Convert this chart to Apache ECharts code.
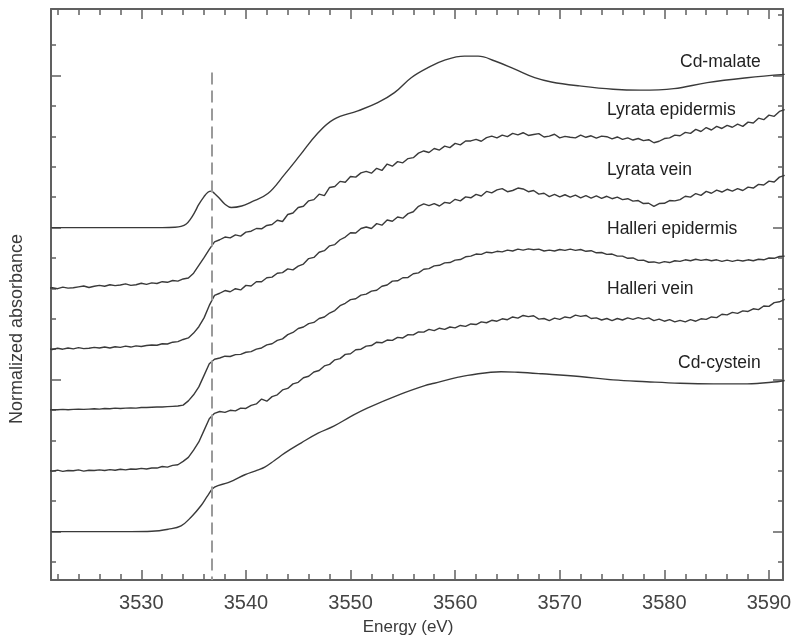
<!DOCTYPE html>
<html>
<head>
<meta charset="utf-8">
<script src="https://cdn.jsdelivr.net/npm/echarts@6.0.0/dist/echarts.min.js"></script>
<style>
  html, body { margin: 0; padding: 0; background: #fff; }
  #chart { width: 793px; height: 636px; }
</style>
</head>
<body>
<div id="chart"></div>
<script>
// sampling grid for the noisy plant spectra (eV)
const energy = [3521,
  3521.5,3522,3522.5,3523,3523.5,3524,3524.5,3525,3525.5,3526,
  3526.5,3527,3527.5,3528,3528.5,3529,3529.5,3530,3530.5,3531,
  3531.5,3532,3532.5,3533,3533.5,3534,3534.5,3535,3535.5,3536,
  3536.5,3537,3537.5,3538,3538.5,3539,3539.5,3540,3540.5,3541,
  3541.5,3542,3542.5,3543,3543.5,3544,3544.5,3545,3545.5,3546,
  3546.5,3547,3547.5,3548,3548.5,3549,3549.5,3550,3550.5,3551,
  3551.5,3552,3552.5,3553,3553.5,3554,3554.5,3555,3555.5,3556,
  3556.5,3557,3557.5,3558,3558.5,3559,3559.5,3560,3560.5,3561,
  3561.5,3562,3562.5,3563,3563.5,3564,3564.5,3565,3565.5,3566,
  3566.5,3567,3567.5,3568,3568.5,3569,3569.5,3570,3570.5,3571,
  3571.5,3572,3572.5,3573,3573.5,3574,3574.5,3575,3575.5,3576,
  3576.5,3577,3577.5,3578,3578.5,3579,3579.5,3580,3580.5,3581,
  3581.5,3582,3582.5,3583,3583.5,3584,3584.5,3585,3585.5,3586,
  3586.5,3587,3587.5,3588,3588.5,3589,3589.5,3590,3590.5,3591,
  3591.5];

const lyrataEpidermis = [0.00,
  0.02,-0.01,0.04,0.01,0.02,0.05,0.08,0.03,0.07,0.10,
  0.07,0.12,0.09,0.11,0.15,0.10,0.12,0.17,0.13,0.18,
  0.16,0.22,0.20,0.26,0.24,0.31,0.34,0.50,0.76,1.01,
  1.28,1.53,1.60,1.69,1.66,1.76,1.72,1.85,1.88,1.97,
  1.96,2.07,2.10,2.24,2.20,2.43,2.48,2.66,2.70,2.88,
  2.92,3.10,3.05,3.32,3.35,3.52,3.49,3.68,3.66,3.80,
  3.85,3.79,3.95,3.88,4.09,4.02,4.17,4.13,4.27,4.30,
  4.45,4.52,4.47,4.60,4.55,4.68,4.63,4.77,4.72,4.85,
  4.85,4.90,4.84,4.96,5.01,4.95,5.04,4.99,5.10,5.05,
  5.12,5.03,5.06,5.09,4.98,5.01,5.07,4.95,5.00,4.97,
  4.95,5.04,4.97,5.02,4.94,5.01,4.99,4.92,4.98,4.90,
  4.95,4.88,4.93,4.86,4.89,4.79,4.84,4.93,4.95,5.04,
  5.02,5.13,5.10,5.23,5.16,5.29,5.21,5.33,5.26,5.36,
  5.30,5.40,5.33,5.47,5.44,5.60,5.55,5.70,5.66,5.82,
  5.88];

const lyrataVein = [0.02,
  -0.01,0.03,0.00,0.04,0.01,0.05,0.02,0.03,0.06,0.04,
  0.07,0.04,0.08,0.06,0.10,0.07,0.11,0.09,0.12,0.14,
  0.13,0.18,0.17,0.23,0.25,0.32,0.37,0.53,0.74,1.03,
  1.44,1.77,1.84,1.93,1.89,1.99,1.95,2.10,2.08,2.22,
  2.22,2.35,2.37,2.50,2.52,2.64,2.61,2.73,2.80,2.98,
  3.02,3.19,3.24,3.40,3.44,3.60,3.69,3.83,3.82,3.97,
  4.02,3.97,4.13,4.08,4.25,4.21,4.35,4.31,4.46,4.52,
  4.70,4.78,4.72,4.79,4.71,4.83,4.80,4.93,4.88,5.01,
  4.98,5.09,5.04,5.19,5.14,5.24,5.28,5.18,5.22,5.30,
  5.27,5.18,5.22,5.10,5.13,5.02,5.09,5.01,5.08,5.00,
  5.07,4.98,5.05,4.97,5.04,4.96,5.03,4.95,5.00,4.92,
  4.95,4.87,4.89,4.79,4.80,4.70,4.79,4.80,4.89,4.88,
  4.92,5.03,5.00,5.12,5.06,5.19,5.13,5.23,5.17,5.26,
  5.20,5.28,5.22,5.33,5.30,5.42,5.40,5.53,5.50,5.66,
  5.72];

const halleriEpidermis = [0.00,
  0.01,0.01,0.02,0.01,0.02,0.03,0.02,0.03,0.04,0.03,
  0.05,0.04,0.06,0.05,0.06,0.07,0.06,0.08,0.08,0.09,
  0.10,0.10,0.11,0.12,0.13,0.16,0.30,0.50,0.76,1.14,
  1.52,1.67,1.71,1.77,1.76,1.82,1.83,1.90,1.92,2.00,
  2.04,2.14,2.18,2.29,2.34,2.48,2.55,2.68,2.73,2.84,
  2.88,3.01,3.06,3.19,3.27,3.43,3.51,3.63,3.66,3.78,
  3.81,3.91,3.94,4.07,4.11,4.24,4.25,4.35,4.36,4.48,
  4.51,4.63,4.65,4.74,4.76,4.84,4.85,4.93,4.95,5.04,
  5.06,5.13,5.12,5.19,5.17,5.22,5.20,5.26,5.23,5.29,
  5.26,5.30,5.27,5.29,5.23,5.26,5.23,5.28,5.25,5.29,
  5.25,5.28,5.22,5.24,5.17,5.18,5.12,5.13,5.06,5.06,
  4.99,5.00,4.92,4.93,4.86,4.87,4.83,4.88,4.85,4.91,
  4.89,4.94,4.91,4.96,4.92,4.95,4.91,4.94,4.89,4.93,
  4.89,4.93,4.90,4.94,4.91,4.96,4.94,5.00,4.99,5.05,
  5.06];

const halleriVein = [0.01,
  -0.01,0.02,-0.02,0.01,0.00,0.03,-0.01,0.02,0.01,0.03,
  0.01,0.04,0.02,0.05,0.03,0.06,0.05,0.08,0.06,0.09,
  0.09,0.14,0.12,0.18,0.20,0.31,0.44,0.68,0.95,1.33,
  1.71,1.89,1.95,1.92,1.99,1.97,2.06,2.05,2.15,2.20,
  2.36,2.29,2.44,2.50,2.66,2.71,2.86,2.91,3.06,3.11,
  3.25,3.30,3.45,3.50,3.65,3.69,3.83,3.85,3.98,4.00,
  4.10,4.12,4.23,4.21,4.30,4.29,4.39,4.37,4.48,4.47,
  4.57,4.56,4.65,4.61,4.69,4.65,4.73,4.70,4.78,4.75,
  4.83,4.81,4.90,4.87,4.95,4.92,5.00,4.97,5.06,5.02,
  5.11,5.07,5.10,4.99,5.01,4.94,5.02,4.98,5.06,5.03,
  5.12,5.08,5.11,5.01,5.03,4.96,5.01,4.94,5.01,4.96,
  5.03,4.98,5.04,4.99,5.03,4.94,4.99,4.92,4.97,4.90,
  4.95,4.90,4.97,4.92,5.00,4.98,5.06,5.04,5.15,5.13,
  5.21,5.18,5.26,5.24,5.33,5.30,5.42,5.41,5.53,5.56,
  5.64];

// reference compounds (smooth, own sampling)
const malateEnergy = [3521.4, 3528, 3532, 3533.2, 3533.8, 3534.3, 3534.7, 3535.1, 3535.5, 3536.0,
  3536.4, 3536.7, 3537.0, 3537.4, 3538.0, 3538.6, 3539.6, 3540.5, 3542.1, 3543.7,
  3545.2, 3546.8, 3548.4, 3550.7, 3552.6, 3554.2, 3555.8, 3557.4, 3559.0, 3560.9,
  3562.2, 3563.8, 3565.7, 3567.6, 3569.2, 3571.9, 3575.1, 3577.7, 3580.9, 3584.1,
  3587.9, 3591.5];
const malateAbs = [0, 0, 0, 0.01, 0.04, 0.12, 0.28, 0.50, 0.76, 1.02,
  1.17, 1.20, 1.12, 0.99, 0.77, 0.66, 0.71, 0.84, 1.12, 1.75,
  2.39, 3.08, 3.56, 3.84, 4.11, 4.44, 4.93, 5.26, 5.51, 5.64,
  5.64, 5.48, 5.21, 4.93, 4.79, 4.66, 4.55, 4.52, 4.57, 4.77,
  4.93, 5.04];

const cysteinEnergy = [3521.4, 3529.0, 3531.0, 3532.6, 3533.8, 3534.8, 3535.7, 3536.4, 3537.0, 3538.3,
  3538.9, 3539.9, 3541.1, 3541.8, 3542.7, 3543.7, 3545.3, 3546.9, 3548.4, 3550.0,
  3551.6, 3554.8, 3557.1, 3558.0, 3560.3, 3561.2, 3564.4, 3566.0, 3568.3, 3571.9,
  3575.1, 3578.3, 3581.5, 3584.7, 3587.9, 3590.8, 3591.5];
const cysteinAbs = [0, 0, 0.01, 0.08, 0.19, 0.49, 0.85, 1.21, 1.46, 1.61,
  1.70, 1.87, 2.02, 2.12, 2.33, 2.58, 2.92, 3.24, 3.47, 3.78,
  4.06, 4.52, 4.80, 4.88, 5.08, 5.14, 5.26, 5.24, 5.19, 5.10,
  4.99, 4.93, 4.88, 4.86, 4.86, 4.93, 4.97];

const sampleNames = ['Cd-malate', 'Lyrata epidermis', 'Lyrata vein', 'Halleri epidermis', 'Halleri vein', 'Cd-cystein'];
const stackOffsets = [11, 9, 7, 5, 3, 1];

const xMajorTicks = [3530, 3540, 3550, 3560, 3570, 3580, 3590];
const xMinorTicks = [3522, 3524, 3526, 3528, 3532, 3534, 3536, 3538, 3542, 3544, 3546, 3548,
  3552, 3554, 3556, 3558, 3562, 3564, 3566, 3568, 3572, 3574, 3576, 3578, 3582, 3584, 3586, 3588];
const yMajorTicks = [1, 6, 11, 16];
const yMinorTicks = [0, 2, 3, 4, 5, 7, 8, 9, 10, 12, 13, 14, 15, 17];
const yMinorTicksRight = [0, 2, 3, 4, 5, 7, 8, 9, 10, 12, 13, 14, 15, 17, 18];
const edgeEnergy = 3536.7;

const X_MIN = 3521.37, X_MAX = 3591.34;
const Y_MIN = -0.592, Y_MAX = 18.19;

const FRAME = '#606060';
const INK = '#3a3a3a';
const FONT = 'Liberation Sans';

const pairs = (xs, ys, off) => xs.map((x, i) => [x, +(ys[i] + off).toFixed(3)]);

const spectra = [
  { xs: malateEnergy, ys: malateAbs, smooth: 0.4 },
  { xs: energy, ys: lyrataEpidermis, smooth: false },
  { xs: energy, ys: lyrataVein, smooth: false },
  { xs: energy, ys: halleriEpidermis, smooth: false },
  { xs: energy, ys: halleriVein, smooth: false },
  { xs: cysteinEnergy, ys: cysteinAbs, smooth: 0.4 }
];

const series = spectra.map((s, k) => ({
  name: sampleNames[k],
  type: 'line',
  xAxisIndex: 0,
  yAxisIndex: 0,
  showSymbol: false,
  smooth: s.smooth,
  lineStyle: { color: INK, width: 1.4 },
  data: pairs(s.xs, s.ys, stackOffsets[k])
}));

series[0].markLine = {
  silent: true,
  symbol: 'none',
  label: { show: false },
  lineStyle: { color: '#9a9a9a', width: 2, type: [12, 6] },
  data: [[{ coord: [edgeEnergy, 16.1] }, { coord: [edgeEnergy, Y_MIN] }]]
};

function xAxisOf(position, ticks, len, withLine, withLabels) {
  return {
    type: 'value', position, min: X_MIN, max: X_MAX,
    axisLine: { show: withLine, onZero: false, lineStyle: { color: FRAME, width: 2 } },
    axisTick: { show: true, inside: true, length: len, customValues: ticks,
      lineStyle: { color: FRAME, width: 1.5 } },
    axisLabel: withLabels
      ? { show: true, customValues: ticks, margin: 13, fontSize: 20, color: '#444', fontFamily: FONT,
          formatter: v => String(v) }
      : { show: false },
    splitLine: { show: false }
  };
}

function yAxisOf(position, ticks, len, withLine) {
  return {
    type: 'value', position, min: Y_MIN, max: Y_MAX,
    axisLine: { show: withLine, onZero: false, lineStyle: { color: FRAME, width: 2 } },
    axisTick: { show: true, inside: true, length: len, customValues: ticks,
      lineStyle: { color: FRAME, width: 1.5 } },
    axisLabel: { show: false },
    splitLine: { show: false }
  };
}

const bottomAxis = xAxisOf('bottom', xMajorTicks, 10, true, true);
bottomAxis.name = 'Energy (eV)';
bottomAxis.nameLocation = 'middle';
bottomAxis.nameGap = 39;
bottomAxis.nameTextStyle = { fontSize: 17, color: INK, fontFamily: FONT, padding: [0, 18, 0, 0] };

const labelPos = [[680, 62], [607, 110], [607, 170], [607, 229], [607, 289], [678, 363]];

const option = {
  animation: false,
  backgroundColor: '#fff',
  grid: { left: 51, right: 10, top: 9, bottom: 56, containLabel: false, outerBoundsMode: 'none' },
  xAxis: [
    bottomAxis,
    xAxisOf('bottom', xMinorTicks, 6, false, false),
    xAxisOf('top', xMajorTicks, 10, true, false),
    xAxisOf('top', xMinorTicks, 6, false, false)
  ],
  yAxis: [
    yAxisOf('left', yMajorTicks, 10, true),
    yAxisOf('left', yMinorTicks, 5, false),
    yAxisOf('right', yMajorTicks, 10, true),
    yAxisOf('right', yMinorTicksRight, 5, false)
  ],
  series,
  graphic: [
    {
      type: 'text', x: 17, y: 329, rotation: Math.PI / 2,
      style: { text: 'Normalized absorbance', fontSize: 18, fontFamily: FONT, fill: INK,
        align: 'center', verticalAlign: 'middle' }
    },
    ...sampleNames.map((name, k) => ({
      type: 'text', x: labelPos[k][0], y: labelPos[k][1],
      style: { text: name, fontSize: 17.5, fontFamily: FONT, fill: '#222',
        align: 'left', verticalAlign: 'middle' }
    }))
  ]
};

const chart = echarts.init(document.getElementById('chart'));
chart.setOption(option);
</script>
</body>
</html>
